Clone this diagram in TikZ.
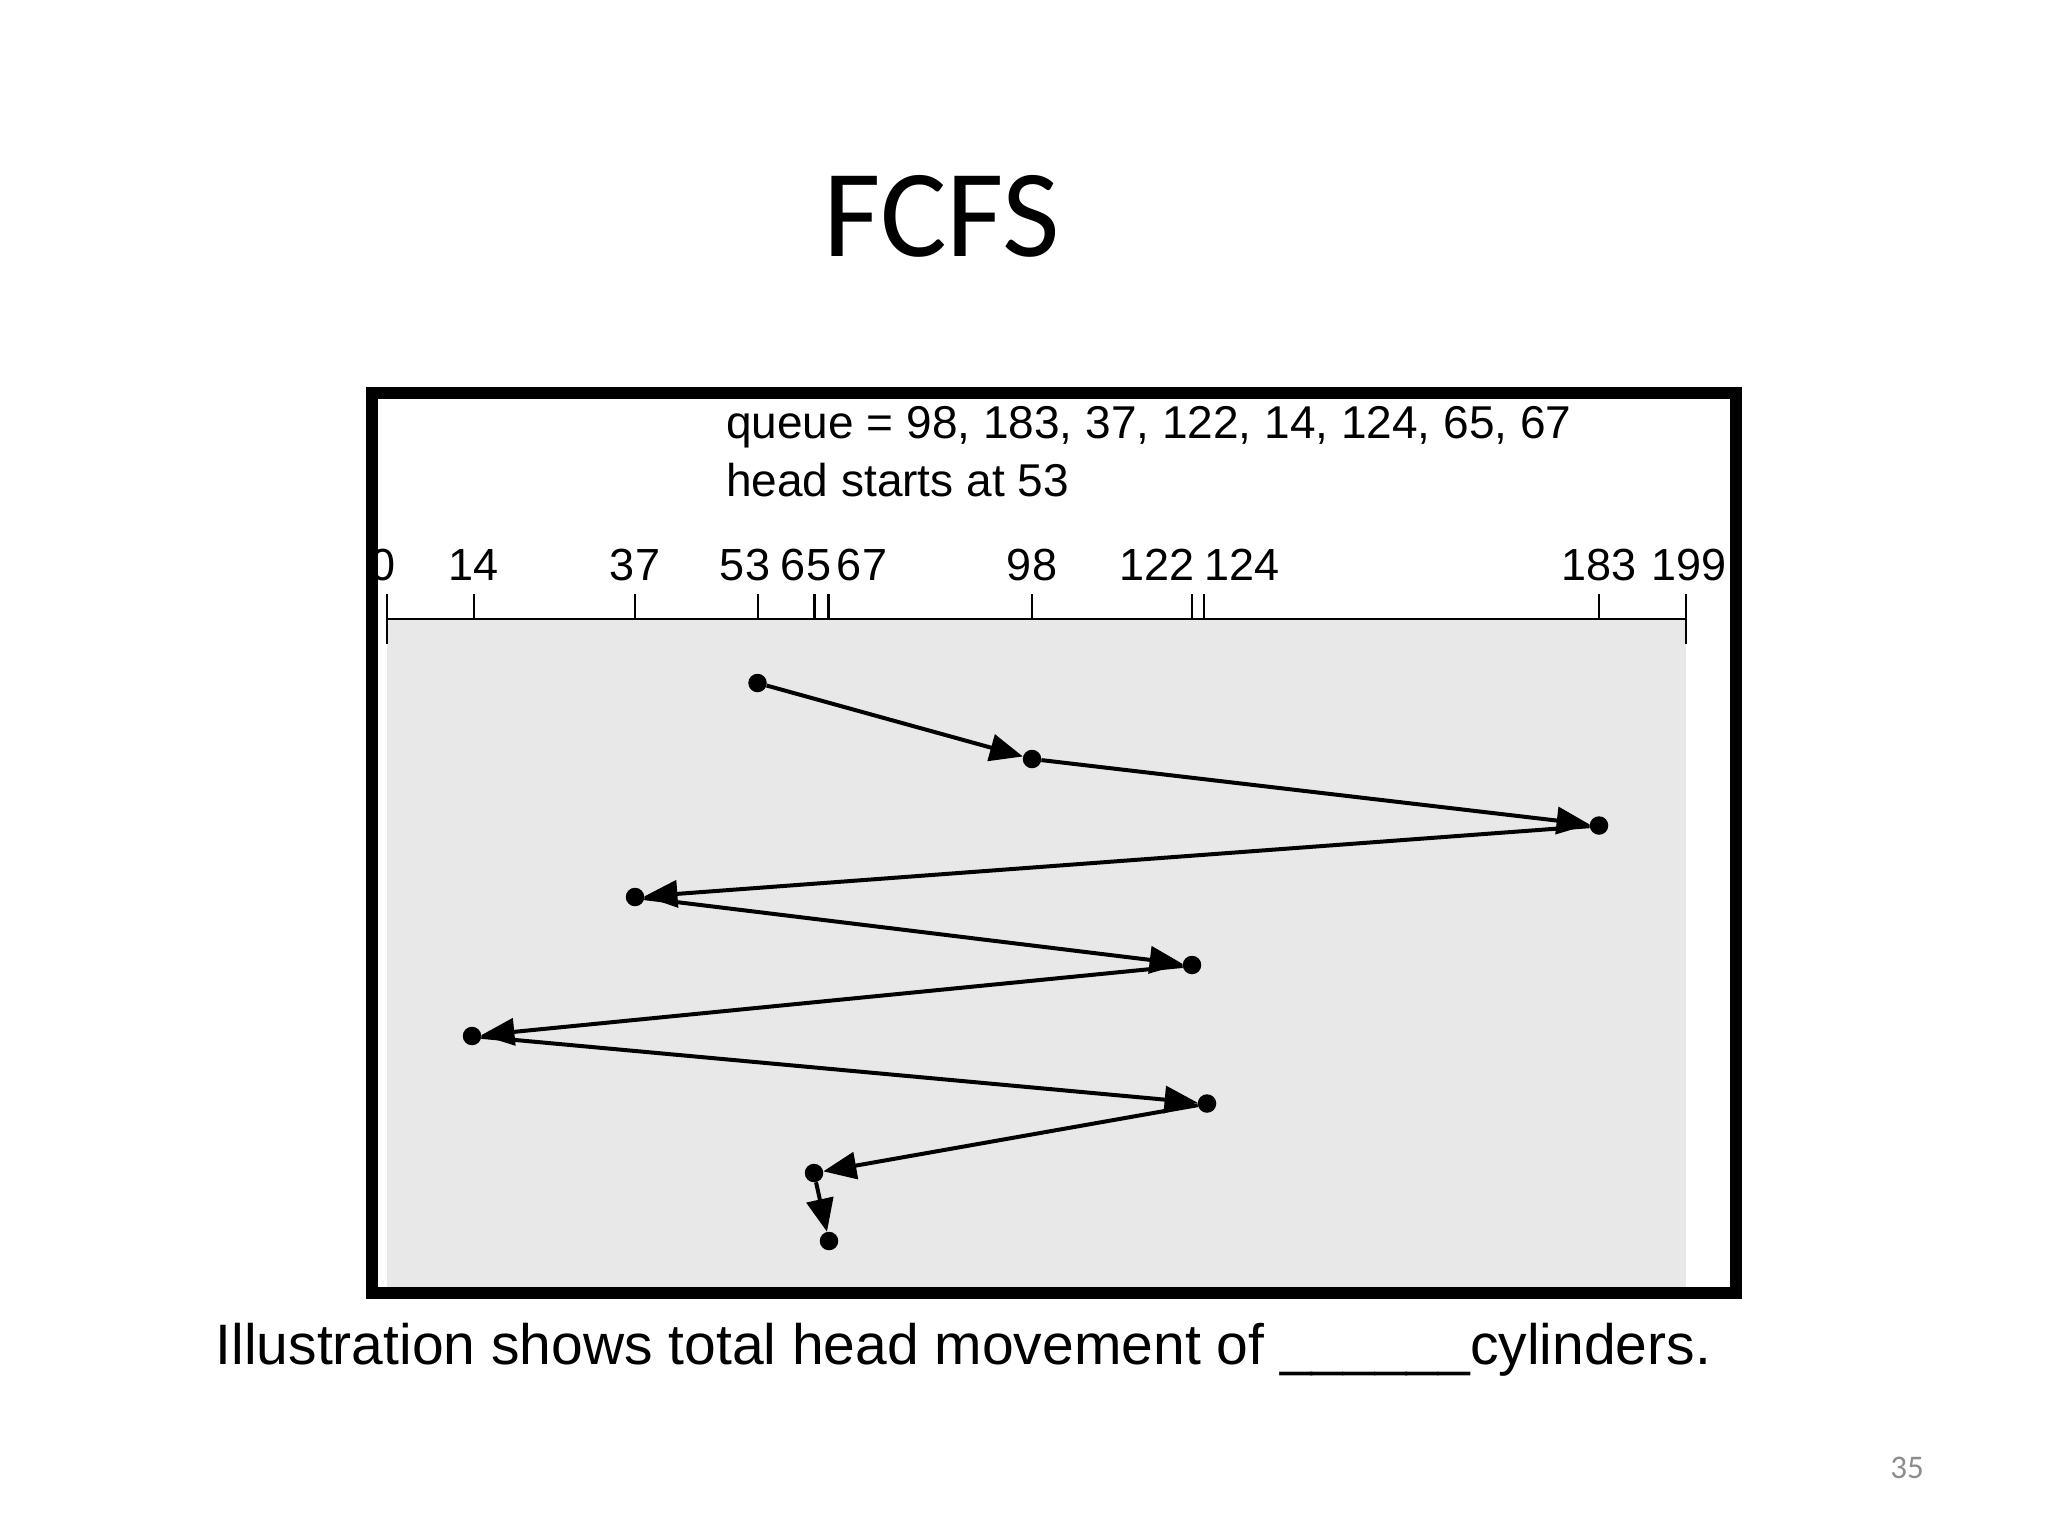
\documentclass[tikz,border=0pt]{standalone}
\usepackage{fontspec}
\setmainfont{Liberation Sans}
\newfontfamily\titlefont{Carlito}
\usetikzlibrary{arrows.meta}
\definecolor{panelgray}{HTML}{E8E8E8}
\definecolor{pagegray}{HTML}{8C8C8C}
\tikzset{
  dot/.style={circle,fill=black,inner sep=0pt,minimum size=18.5pt},
  move/.style={line width=4pt,-{Triangle[length=33pt,width=27pt]}},
  ticklabel/.style={anchor=base,inner sep=0pt,font=\fontsize{45}{50}\selectfont},
  tickmark/.style={line width=2.2pt},
}
\begin{document}
\begin{tikzpicture}[x=1pt,y=-1pt]
\useasboundingbox (0,0) rectangle (2048,1536);
% title
\node[anchor=base,inner sep=0pt,font=\titlefont\fontsize{125}{130}\selectfont] (title) at (942,256) {FCFS};
% panel background
\fill[panelgray] (387,619) rectangle (1686,1288);
% queue text
\node[anchor=base west,inner sep=0pt,font=\fontsize{46}{50}\selectfont] (queue) at (726,438) {queue = 98, 183, 37, 122, 14, 124, 65, 67};
\node[anchor=base west,inner sep=0pt,font=\fontsize{46}{50}\selectfont] (head) at (726,496) {head starts at 53};
% tick labels
\node[ticklabel] (l0) at (383,580) {0};
\node[ticklabel] (l14) at (474,580) {14};
\node[ticklabel] (l37) at (635,580) {37};
\node[ticklabel] (l53) at (745,580) {53};
\node[ticklabel] (l65) at (806,580) {65};
\node[ticklabel] (l67) at (862,580) {67};
\node[ticklabel] (l98) at (1032,580) {98};
\node[ticklabel] (l122) at (1157,580) {122};
\node[ticklabel] (l124) at (1242,580) {124};
\node[ticklabel] (l183) at (1599,580) {183};
\node[ticklabel] (l199) at (1689,580) {199};
% axis
\draw[tickmark] (387,619) -- (1686,619);
\draw[tickmark] (387,594) -- (387,644);
\draw[tickmark] (1686,594) -- (1686,644);
\foreach \t in {474,635,758,814.5,828.5,1032,1192,1204,1599}
  \draw[tickmark] (\t,594) -- (\t,619);
% head positions
\node[dot] (p0) at (757.5,683) {};
\node[dot] (p1) at (1032,759) {};
\node[dot] (p2) at (1599,825.5) {};
\node[dot] (p3) at (635,897) {};
\node[dot] (p4) at (1192,965) {};
\node[dot] (p5) at (472,1036) {};
\node[dot] (p6) at (1207,1103.5) {};
\node[dot] (p7) at (814,1173) {};
\node[dot] (p8) at (829,1241) {};
\draw[move] (p0) -- (p1);
\draw[move] (p1) -- (p2);
\draw[move] (p2) -- (p3);
\draw[move] (p3) -- (p4);
\draw[move] (p4) -- (p5);
\draw[move] (p5) -- (p6);
\draw[move] (p6) -- (p7);
\draw[move] (p7) -- (p8);
% frame
\draw[line width=12pt] (372,393) rectangle (1736,1293);
% caption
\node[anchor=base west,inner sep=0pt,font=\fontsize{57}{60}\selectfont] (caption) at (215.5,1364) {Illustration shows total head movement of \_\_\_\_\_\_cylinders.};
% page number
\node[anchor=base,inner sep=0pt,text=pagegray,font=\titlefont\fontsize{33}{36}\selectfont] (page) at (1907,1478) {35};
\end{tikzpicture}
\end{document}
